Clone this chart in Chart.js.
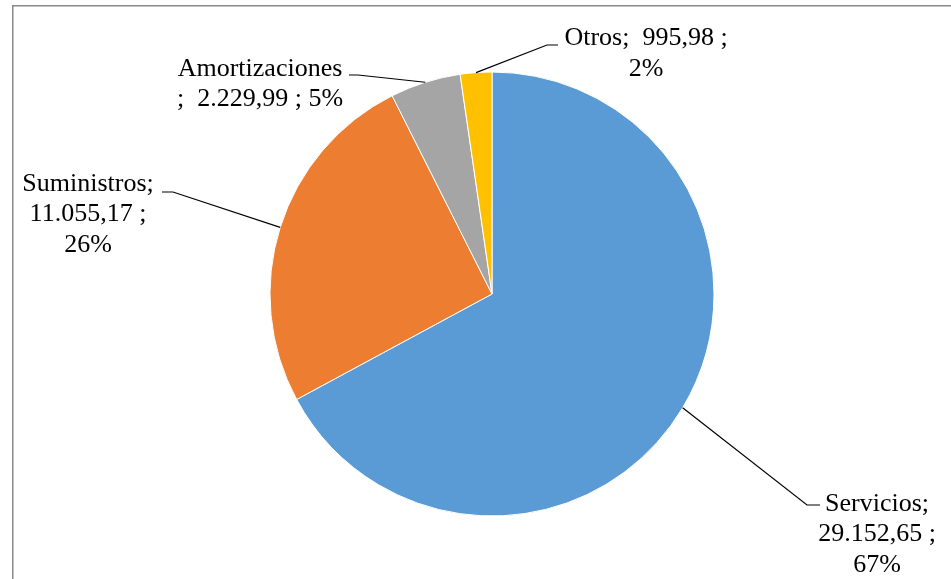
<!DOCTYPE html>
<html>
<head>
<meta charset="utf-8">
<script src="https://cdn.jsdelivr.net/npm/chart.js@4"></script>
<style>
  html, body { margin: 0; padding: 0; background: #fff; }
  #wrap { position: relative; width: 951px; height: 579px; }
</style>
</head>
<body>
<div id="wrap"><canvas id="c" width="951" height="579"></canvas></div>
<script>
// ---- data ----
const categories = ['Servicios', 'Suministros', 'Amortizaciones', 'Otros'];
const values = [29152.65, 11055.17, 2229.99, 995.98];
const colors = ['#5B9BD5', '#ED7D31', '#A5A5A5', '#FFC000'];

// ---- label layout (positions only) ----
const labelLayout = [
  { x: 877, y: 504, lh: 30.5, elbow: [807, 505], end: [820, 505] },
  { x: 88,  y: 184, lh: 30.5, elbow: [173, 192], end: [162, 192] },
  { x: 260, y: 69,  lh: 30.5, elbow: [358, 75],  end: [349, 75] },
  { x: 646, y: 38,  lh: 31,   elbow: [547, 45],  end: [558, 45] }
];

function fmtNum(v) {
  const parts = v.toFixed(2).split('.');
  const int = parts[0].replace(/\B(?=(\d{3})+(?!\d))/g, '.');
  return int + ',' + parts[1];
}
// largest-remainder percentages (sum to 100)
function pcts(arr) {
  const tot = arr.reduce((a, b) => a + b, 0);
  const raw = arr.map(v => v / tot * 100);
  const fl = raw.map(Math.floor);
  let rem = 100 - fl.reduce((a, b) => a + b, 0);
  const order = raw.map((r, i) => [r - Math.floor(r), i]).sort((a, b) => b[0] - a[0]);
  for (let k = 0; k < rem; k++) fl[order[k][1]]++;
  return fl;
}
const pctVals = pcts(values);

function labelLines(i) {
  const n = categories[i], v = fmtNum(values[i]), p = pctVals[i] + '%';
  if (i === 2) return [n, ';  ' + v + ' ; ' + p];
  if (i === 3) return [n + ';  ' + v + ' ;', p];
  return [n + ';', v + ' ;', p];
}

const framePlugin = {
  id: 'frame',
  beforeDraw(chart) {
    const ctx = chart.ctx;
    ctx.save();
    ctx.strokeStyle = '#8a8a8a';
    ctx.lineWidth = 1.5;
    ctx.beginPath();
    ctx.moveTo(12.75, 600);
    ctx.lineTo(12.75, 5.75);
    ctx.lineTo(960, 5.75);
    ctx.stroke();
    ctx.restore();
  }
};

const labelPlugin = {
  id: 'pieLabels',
  afterDatasetsDraw(chart) {
    const ctx = chart.ctx;
    const meta = chart.getDatasetMeta(0);
    ctx.save();
    ctx.font = '26px "Liberation Serif", "Times New Roman", serif';
    ctx.textAlign = 'center';
    ctx.textBaseline = 'middle';
    meta.data.forEach((arc, i) => {
      const p = arc.getProps(['x', 'y', 'startAngle', 'endAngle', 'outerRadius'], true);
      const mid = (p.startAngle + p.endAngle) / 2;
      const ax = p.x + Math.cos(mid) * p.outerRadius;
      const ay = p.y + Math.sin(mid) * p.outerRadius;
      const L = labelLayout[i];
      ctx.strokeStyle = '#000';
      ctx.lineWidth = 1.2;
      ctx.beginPath();
      ctx.moveTo(ax, ay);
      ctx.lineTo(L.elbow[0], L.elbow[1]);
      ctx.lineTo(L.end[0], L.end[1]);
      ctx.stroke();
      ctx.fillStyle = '#000';
      labelLines(i).forEach((t, k) => ctx.fillText(t, L.x, L.y + k * L.lh));
    });
    ctx.restore();
  }
};

new Chart(document.getElementById('c'), {
  type: 'pie',
  data: {
    labels: categories,
    datasets: [{
      data: values,
      backgroundColor: colors,
      borderColor: '#ffffff',
      borderWidth: 1,
      radius: 222
    }]
  },
  options: {
    responsive: false,
    animation: false,
    devicePixelRatio: 1,
    layout: { padding: { left: 270, right: 237, top: 72, bottom: 63 } },
    plugins: { legend: { display: false }, tooltip: { enabled: false } }
  },
  plugins: [framePlugin, labelPlugin]
});
</script>
</body>
</html>
